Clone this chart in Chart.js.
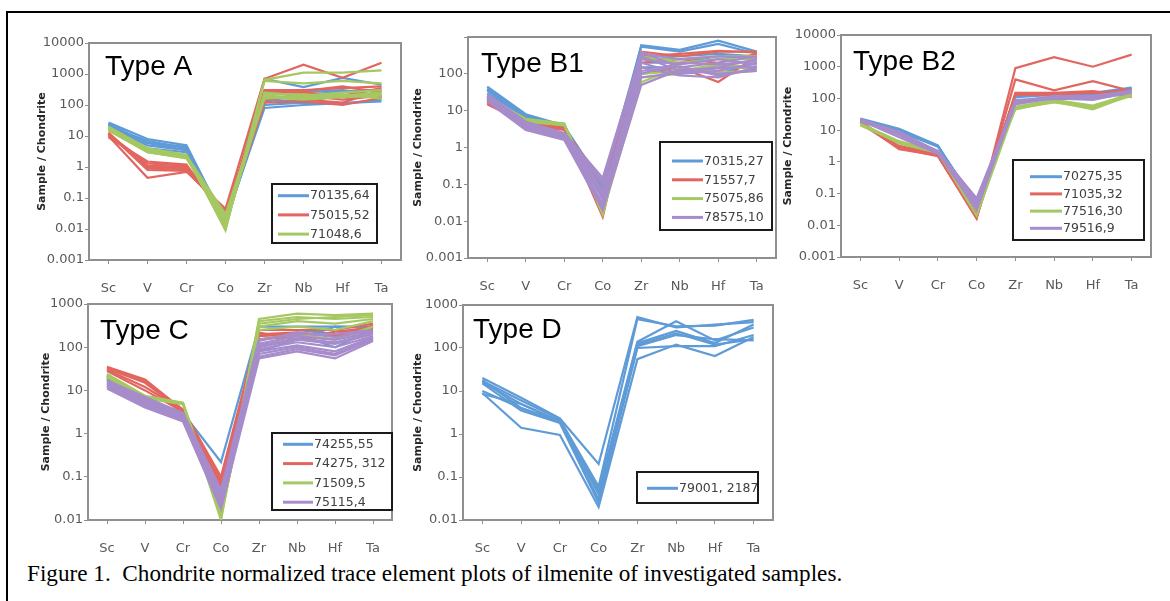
<!DOCTYPE html>
<html><head><meta charset="utf-8">
<script src="https://cdn.jsdelivr.net/npm/chart.js@4"></script>
<style>
html,body{margin:0;padding:0;background:#fff;width:1170px;height:601px;overflow:hidden;position:relative;}
#frame{position:absolute;left:6px;top:11px;width:1300px;height:700px;border-left:2px solid #000;border-top:2px solid #000;}
canvas{position:absolute;}
#caption{position:absolute;left:27px;top:560px;font-family:'Liberation Serif',serif;font-size:23.2px;color:#000;white-space:pre;line-height:26px;}
</style></head><body>
<div id="frame"></div>
<div id="caption">Figure 1.  Chondrite normalized trace element plots of ilmenite of investigated samples.</div>
<script>
// ---------- categories & ticks ----------
const elements = ['Sc','V','Cr','Co','Zr','Nb','Hf','Ta'];
const ticks6 = [0.001,0.01,0.1,1,10,100,1000,10000];
const ticksB1 = [0.001,0.01,0.1,1,10,100,1000];
const ticks5 = [0.01,0.1,1,10,100,1000];

// ---------- Type A ----------
const A_70135_64 = [
  [27, 8, 5, 0.016, 700, 380, 750, 450],
  [25, 6, 4.5, 0.018, 80, 100, 115, 130],
  [22, 5, 3.5, 0.02, 100, 120, 110, 150],
  [24, 4, 3, 0.015, 120, 260, 300, 200],
  [20, 7, 4, 0.012, 250, 200, 280, 300],
  [23, 6, 3.5, 0.017, 150, 130, 200, 180]
];
const A_75015_52 = [
  [10, 0.45, 0.7, 0.045, 700, 2000, 750, 2300],
  [12, 1.0, 0.9, 0.03, 300, 300, 350, 400],
  [11, 1.3, 1.1, 0.025, 250, 250, 200, 350],
  [13, 0.9, 0.8, 0.035, 200, 150, 120, 300],
  [9, 1.5, 1.2, 0.02, 120, 130, 100, 170],
  [11, 1.1, 1.0, 0.03, 280, 280, 400, 250],
  [12, 0.8, 0.75, 0.04, 150, 200, 150, 200]
];
const A_71048_6 = [
  [20, 4, 2.5, 0.009, 650, 1100, 1100, 1300],
  [18, 3.5, 2.2, 0.01, 600, 500, 600, 500],
  [17, 3, 2, 0.012, 250, 200, 250, 300],
  [16, 3.2, 2.1, 0.02, 200, 170, 200, 250],
  [19, 3.8, 2.4, 0.015, 180, 150, 180, 200],
  [15, 3, 1.9, 0.025, 220, 220, 180, 220],
  [18, 3.6, 2.3, 0.03, 160, 190, 220, 160]
];

// ---------- Type B1 ----------
const B1_70315_27 = [
  [45, 8, 4, 0.05, 600, 450, 800, 400],
  [40, 7.5, 3.8, 0.1, 550, 400, 650, 350],
  [35, 7, 3.5, 0.04, 300, 300, 350, 300],
  [30, 6.5, 3.3, 0.06, 200, 200, 300, 250],
  [38, 7, 3.6, 0.08, 150, 150, 100, 200]
];
const B1_71557_7 = [
  [15, 4.5, 3.2, 0.013, 400, 300, 400, 400],
  [17, 5, 3.4, 0.02, 300, 350, 420, 380],
  [18, 4.2, 3, 0.12, 100, 150, 60, 300],
  [16, 4.8, 3.3, 0.06, 200, 250, 200, 350]
];
const B1_75075_86 = [
  [22, 6, 4.5, 0.018, 80, 100, 170, 130],
  [24, 5.5, 4.3, 0.015, 250, 250, 300, 300],
  [20, 5.2, 4.2, 0.02, 100, 120, 180, 150],
  [23, 5.8, 4.4, 0.017, 60, 150, 110, 120],
  [21, 5, 4, 0.022, 300, 200, 250, 250]
];
const B1_78575_10 = [
  [28, 5, 2.5, 0.15, 400, 150, 200, 300],
  [25, 4.5, 2.2, 0.1, 300, 120, 150, 250],
  [22, 4, 2, 0.05, 200, 100, 120, 200],
  [20, 3.5, 1.8, 0.03, 150, 90, 80, 150],
  [18, 3, 1.6, 0.02, 50, 130, 100, 120],
  [24, 4.2, 2.3, 0.07, 100, 200, 180, 220],
  [26, 3.8, 2.1, 0.04, 250, 180, 250, 180],
  [21, 3.3, 1.9, 0.025, 80, 110, 140, 160],
  [23, 4.8, 2.4, 0.12, 350, 250, 300, 280],
  [19, 3.2, 1.7, 0.06, 120, 160, 90, 140]
];

// ---------- Type B2 ----------
const B2_70275_35 = [
  [23, 11, 3.3, 0.04, 130, 140, 150, 220],
  [21, 9, 3, 0.05, 110, 130, 140, 200],
  [22, 10, 3.2, 0.035, 120, 150, 130, 210]
];
const B2_71035_32 = [
  [18, 2.5, 1.6, 0.016, 900, 2000, 1000, 2400],
  [17, 3, 1.7, 0.02, 400, 180, 350, 170],
  [19, 2.8, 1.6, 0.018, 150, 150, 170, 120],
  [18, 3.2, 1.8, 0.022, 140, 130, 160, 110],
  [16, 2.7, 1.5, 0.017, 130, 140, 150, 180]
];
const B2_77516_30 = [
  [15, 4, 2, 0.07, 45, 80, 45, 130],
  [16, 4.5, 2.1, 0.02, 50, 85, 55, 120],
  [15.5, 3.8, 1.9, 0.03, 55, 90, 60, 140],
  [14, 4.2, 2, 0.06, 48, 75, 50, 125]
];
const B2_79516_9 = [
  [20, 9, 2, 0.03, 70, 100, 90, 160],
  [21, 8, 2.2, 0.07, 80, 110, 110, 180],
  [19, 7, 1.9, 0.05, 90, 95, 100, 170],
  [22, 8.5, 2.1, 0.04, 75, 120, 120, 175],
  [20.5, 6, 1.8, 0.06, 65, 105, 95, 150],
  [19.5, 7.5, 2.0, 0.035, 85, 115, 105, 165]
];

// ---------- Type C ----------
const C_74255_55 = [
  [20, 5, 3, 0.22, 300, 300, 300, 300],
  [18, 4.5, 2.8, 0.05, 200, 200, 100, 250],
  [22, 5.5, 3.2, 0.04, 80, 150, 300, 280],
  [19, 4.8, 2.9, 0.03, 250, 250, 200, 220]
];
const C_74275_312 = [
  [35, 18, 3.5, 0.1, 250, 250, 250, 350],
  [32, 15, 3.3, 0.08, 180, 200, 200, 300],
  [30, 12, 3.4, 0.06, 150, 180, 150, 320],
  [34, 16, 3.6, 0.09, 220, 150, 230, 280],
  [28, 10, 3.2, 0.07, 200, 220, 180, 260]
];
const C_71509_5 = [
  [22, 7, 5, 0.01, 450, 600, 550, 600],
  [24, 7.5, 5.2, 0.012, 400, 500, 450, 500],
  [21, 6.5, 4.8, 0.015, 300, 400, 350, 450],
  [23, 7, 5, 0.011, 250, 300, 250, 400],
  [20, 6.8, 4.9, 0.013, 150, 200, 150, 300],
  [22.5, 7.2, 5.1, 0.014, 350, 450, 500, 550]
];
const C_75115_4 = [
  [17, 7, 3, 0.05, 150, 200, 200, 250],
  [16, 6, 2.8, 0.04, 120, 180, 150, 220],
  [15, 5.5, 2.6, 0.035, 100, 150, 120, 200],
  [14, 5, 2.4, 0.03, 90, 130, 100, 180],
  [13, 4.5, 2.2, 0.025, 80, 110, 80, 170],
  [12, 4.2, 2, 0.02, 70, 100, 70, 160],
  [11, 4, 1.9, 0.018, 55, 80, 55, 140],
  [16.5, 6.5, 2.9, 0.045, 140, 220, 170, 240],
  [12.5, 5, 2.1, 0.028, 60, 90, 65, 150],
  [14.5, 5.8, 2.5, 0.032, 110, 160, 130, 210]
];

// ---------- Type D ----------
const D_79001_2187 = [
  [20, 7, 2.3, 0.2, 520, 300, 350, 400],
  [17, 6, 2.2, 0.06, 470, 320, 330, 450],
  [16, 5, 2, 0.05, 140, 420, 150, 300],
  [18, 4, 2, 0.04, 130, 250, 130, 350],
  [9, 1.4, 0.95, 0.02, 55, 120, 65, 180],
  [10, 4, 1.9, 0.03, 110, 200, 160, 150],
  [15, 3.5, 1.8, 0.025, 100, 110, 110, 200],
  [8.5, 5, 2, 0.045, 120, 220, 120, 160]
];

// ---------- styling ----------
const COL = {blue:'#5f9bd6', red:'#e2665f', green:'#a6c862', purple:'#a68ccb'};
const GRAY = '#8f8f8f';
const TICKFONT = {family:'DejaVu Sans', size:13};

const panels = [
  {name:'Type A', plot:[89,43,401,260], titleX:42, min:0.001, max:10000, ticks:ticks6, hideTop:false,
   head:[105,75],
   legend:{box:[272,184,105,59], row0:195.7, gap:19.2, lx:278, len:31},
   groups:[['70135,64',COL.blue,A_70135_64],['75015,52',COL.red,A_75015_52],['71048,6',COL.green,A_71048_6]]},
  {name:'Type B1', plot:[468,37,776,258], titleX:418, min:0.001, max:1000, ticks:ticksB1, hideTop:true,
   head:[481,71.7],
   legend:{box:[660,142,112,88], row0:161, gap:18.8, lx:672, len:31},
   groups:[['70315,27',COL.blue,B1_70315_27],['71557,7',COL.red,B1_71557_7],['75075,86',COL.green,B1_75075_86],['78575,10',COL.purple,B1_78575_10]]},
  {name:'Type B2', plot:[841,35,1151,257], titleX:788, min:0.001, max:10000, ticks:ticks6, hideTop:false,
   head:[853,70],
   legend:{box:[1013,160,131,80], row0:176.7, gap:17.2, lx:1030, len:32},
   groups:[['70275,35',COL.blue,B2_70275_35],['71035,32',COL.red,B2_71035_32],['77516,30',COL.green,B2_77516_30],['79516,9',COL.purple,B2_79516_9]]},
  {name:'Type C', plot:[88,304,392,520], titleX:46, min:0.01, max:1000, ticks:ticks5, hideTop:false,
   head:[100,339],
   legend:{box:[272,433,120,77], row0:444.3, gap:19.3, lx:283, len:30},
   groups:[['74255,55',COL.blue,C_74255_55],['74275, 312',COL.red,C_74275_312],['71509,5',COL.green,C_71509_5],['75115,4',COL.purple,C_75115_4]]},
  {name:'Type D', plot:[463,305,773,520], titleX:418, min:0.01, max:1000, ticks:ticks5, hideTop:false,
   head:[473,338.3],
   legend:{box:[637,472,121,31], row0:488.3, gap:19, lx:647, len:31},
   groups:[['79001, 2187',COL.blue,D_79001_2187]]}
];

const decoPlugin = {
  id:'deco',
  beforeDatasetsDraw(chart, args, o){
    const a = chart.chartArea, ctx = chart.ctx;
    ctx.save();
    ctx.strokeStyle = GRAY; ctx.lineWidth = 2;
    ctx.strokeRect(a.left, a.top, a.right-a.left, a.bottom-a.top);
    ctx.restore();
  },
  afterDatasetsDraw(chart, args, o){
    const ctx = chart.ctx, p = o.panel, ox = o.ox, oy = o.oy;
    ctx.save();
    ctx.fillStyle = '#000';
    ctx.font = '28px "Liberation Sans", Arial, sans-serif';
    ctx.textBaseline = 'alphabetic';
    ctx.textAlign = 'left';
    ctx.fillText(p.name, p.head[0]-ox, p.head[1]-oy);
    const L = p.legend;
    ctx.fillStyle = '#fff';
    ctx.fillRect(L.box[0]-ox, L.box[1]-oy, L.box[2], L.box[3]);
    ctx.strokeStyle = '#1a1a1a'; ctx.lineWidth = 2;
    ctx.strokeRect(L.box[0]-ox, L.box[1]-oy, L.box[2], L.box[3]);
    ctx.font = '12.5px "DejaVu Sans", sans-serif';
    ctx.textBaseline = 'middle';
    p.groups.forEach((g, i) => {
      const y = L.row0 + i*L.gap - oy;
      ctx.strokeStyle = g[1]; ctx.lineWidth = 3;
      ctx.beginPath(); ctx.moveTo(L.lx-ox, y); ctx.lineTo(L.lx+L.len-ox, y); ctx.stroke();
      ctx.fillStyle = '#404040';
      ctx.fillText(g[0], L.lx+L.len+1-ox, y+0.5);
    });
    ctx.restore();
  }
};

panels.forEach(p => {
  const cv = document.createElement('canvas');
  const lh = 13;
  const cl = Math.round(p.titleX - lh/2);
  const ct = p.plot[1] - 12;
  const W = p.plot[0] - cl;
  const cw = p.plot[2] - cl + 12;
  const ch = p.plot[3] - ct + 45;
  cv.width = cw; cv.height = ch;
  cv.style.left = cl+'px'; cv.style.top = ct+'px';
  cv.style.width = cw+'px'; cv.style.height = ch+'px';
  document.body.appendChild(cv);

  const datasets = [];
  p.groups.forEach(g => {
    g[2].forEach(row => {
      datasets.push({label:g[0], data:row, borderColor:g[1], backgroundColor:g[1],
        borderWidth:2.2, pointRadius:0, tension:0, fill:false});
    });
  });
  datasets.reverse(); // later series on top, like the original

  new Chart(cv, {
    type:'line',
    data:{labels:elements, datasets},
    plugins:[decoPlugin],
    options:{
      responsive:false, animation:false, devicePixelRatio:1,
      layout:{padding:{left:0, top:12, right:12, bottom:0}},
      plugins:{legend:{display:false}, tooltip:{enabled:false}, title:{display:false},
        deco:{panel:p, ox:cl, oy:ct}},
      scales:{
        x:{type:'category', offset:true,
           grid:{display:true, drawOnChartArea:false, drawTicks:true, tickLength:4, color:GRAY, offset:false},
           border:{display:false},
           ticks:{padding:17, color:'#595959', font:TICKFONT, autoSkip:false, maxRotation:0},
           afterFit:s=>{s.height = 45;}},
        y:{type:'logarithmic', min:p.min, max:p.max,
           afterBuildTicks:s=>{s.ticks = p.ticks.map(v=>({value:v}));},
           grid:{display:true, drawOnChartArea:false, drawTicks:true, tickLength:4, color:GRAY},
           border:{display:false},
           ticks:{padding:1, color:'#595959', font:TICKFONT, autoSkip:false,
             callback:(v)=> (p.hideTop && v===p.max) ? '' : String(v)},
           title:{display:true, text:'Sample / Chondrite', color:'#262626', padding:0,
             font:{family:'DejaVu Sans', size:11, weight:'bold', lineHeight:13/11}},
           afterFit:s=>{s.width = W;}}
      }
    }
  });
});
</script>
</body></html>
